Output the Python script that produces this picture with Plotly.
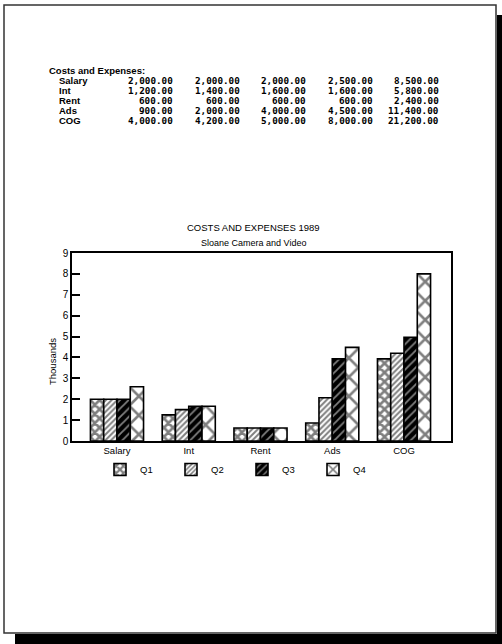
import plotly.graph_objects as go

# ---- spreadsheet block printed above the chart ----
table_title = "Costs and Expenses:"
row_names = ["Salary", "Int", "Rent", "Ads", "COG"]
table_q1 = [2000, 1200, 600, 900, 4000]
table_q2 = [2000, 1400, 600, 2000, 4200]
table_q3 = [2000, 1600, 600, 4000, 5000]
table_q4 = [2500, 1600, 600, 4500, 8000]
table_total = [8500, 5800, 2400, 11400, 21200]

# ---- chart data (thousands) ----
categories = ["Salary", "Int", "Rent", "Ads", "COG"]
series_names = ["Q1", "Q2", "Q3", "Q4"]
q1 = [2.0, 1.25, 0.62, 0.86, 3.93]
q2 = [2.0, 1.5, 0.62, 2.07, 4.2]
q3 = [2.0, 1.66, 0.62, 3.93, 4.97]
q4 = [2.6, 1.66, 0.62, 4.48, 8.0]
y_ticks = list(range(0, 10))

chart_title = "COSTS AND EXPENSES 1989"
chart_subtitle = "Sloane Camera and Video"
y_title = "Thousands"

W, H = 502, 644
L, R, T, B = 72, 451, 253, 441  # plot-area edges in pixels


def px(x):
    return (x - L) / (R - L)


def py(y):
    return (B - y) / (B - T)


patterns = [
    dict(shape="x", size=6.5, solidity=0.65, fgcolor="black", bgcolor="white"),
    dict(shape="/", size=4, solidity=0.5, fgcolor="black", bgcolor="white"),
    dict(shape="/", size=6, solidity=0.3, fgcolor="white", bgcolor="black"),
    dict(shape="x", size=13.5, solidity=0.35, fgcolor="black", bgcolor="white"),
]
base_colors = ["white", "white", "black", "white"]

fig = go.Figure()
for name, vals, pat, col in zip(series_names, [q1, q2, q3, q4], patterns, base_colors):
    fig.add_trace(go.Bar(
        x=categories, y=vals, name=name,
        marker=dict(color=col, pattern=pat, line=dict(color="black", width=1.6)),
    ))

sans = "Liberation Sans, Arial, sans-serif"
mono = "DejaVu Sans Mono, monospace"
word_font = dict(family="Liberation Sans, Arial, sans-serif", size=9.5, color="black")
num_font = dict(family=mono, size=9.3, color="black")

annotations = []
# spreadsheet text
annotations.append(dict(text="<b>%s</b>" % table_title, x=px(47), y=py(70), xref="paper", yref="paper",
                        xanchor="left", yanchor="middle", showarrow=False, font=word_font))
col_right = [175, 241.5, 308, 374.5, 441]
for i, name in enumerate(row_names):
    yy = py(80.5 + 10 * i)
    annotations.append(dict(text="<b>%s</b>" % name, x=px(57), y=yy, xref="paper", yref="paper",
                            xanchor="left", yanchor="middle", showarrow=False, font=word_font))
    for xr, col in zip(col_right, [table_q1, table_q2, table_q3, table_q4, table_total]):
        annotations.append(dict(text="<b>{:,.2f}</b>".format(col[i]), x=px(xr), y=yy,
                                xref="paper", yref="paper", xanchor="right", yanchor="middle",
                                showarrow=False, font=num_font))

# chart titles
annotations.append(dict(text=chart_title, x=px(253), y=py(228), xref="paper", yref="paper",
                        xanchor="center", yanchor="middle", showarrow=False,
                        font=dict(family=sans, size=9.5, color="black")))
annotations.append(dict(text=chart_subtitle, x=px(253), y=py(243), xref="paper", yref="paper",
                        xanchor="center", yanchor="middle", showarrow=False,
                        font=dict(family=sans, size=9, color="black")))
annotations.append(dict(text=y_title, x=px(52), y=py(362), xref="paper", yref="paper",
                        xanchor="center", yanchor="middle", showarrow=False, textangle=-90,
                        font=dict(family=sans, size=9.5, color="black")))

shapes = [
    # page shadow
    dict(type="rect", xref="paper", yref="paper", x0=px(497), x1=px(502), y0=py(15), y1=py(644),
         fillcolor="black", line=dict(width=0), layer="below"),
    dict(type="rect", xref="paper", yref="paper", x0=px(15), x1=px(502), y0=py(634), y1=py(644),
         fillcolor="black", line=dict(width=0), layer="below"),
    # page border
    dict(type="rect", xref="paper", yref="paper", x0=px(4), x1=px(496), y0=py(5), y1=py(633),
         fillcolor="rgba(0,0,0,0)", line=dict(color="#333333", width=1.5), layer="below"),
]

fig.update_layout(
    width=W, height=H,
    margin=dict(l=L, r=W - R, t=T, b=H - B, pad=0),
    paper_bgcolor="white", plot_bgcolor="white",
    barmode="group", bargap=0.26, bargroupgap=0,
    showlegend=True,
    legend=dict(orientation="h", x=px(100), y=py(455), xanchor="left", yanchor="top",
                entrywidth=26, entrywidthmode="pixels", itemwidth=30,
                font=dict(family=sans, size=9.5, color="black"),
                bgcolor="rgba(0,0,0,0)", traceorder="normal"),
    annotations=annotations,
    shapes=shapes,
    xaxis=dict(type="category", range=[-0.627, 4.655], showline=True, mirror=True,
               linecolor="black", linewidth=1.5, ticks="", showgrid=False, zeroline=False,
               tickfont=dict(family=sans, size=9.5, color="black"), fixedrange=True),
    yaxis=dict(range=[0, 9], tickvals=y_ticks, showline=True, mirror=True,
               linecolor="black", linewidth=1.5, ticks="inside", ticklen=8, tickwidth=1.5,
               tickcolor="black", showgrid=False, zeroline=False,
               tickfont=dict(family=sans, size=10, color="black"), fixedrange=True),
)

fig.write_html("out.html", config={"displayModeBar": False})
